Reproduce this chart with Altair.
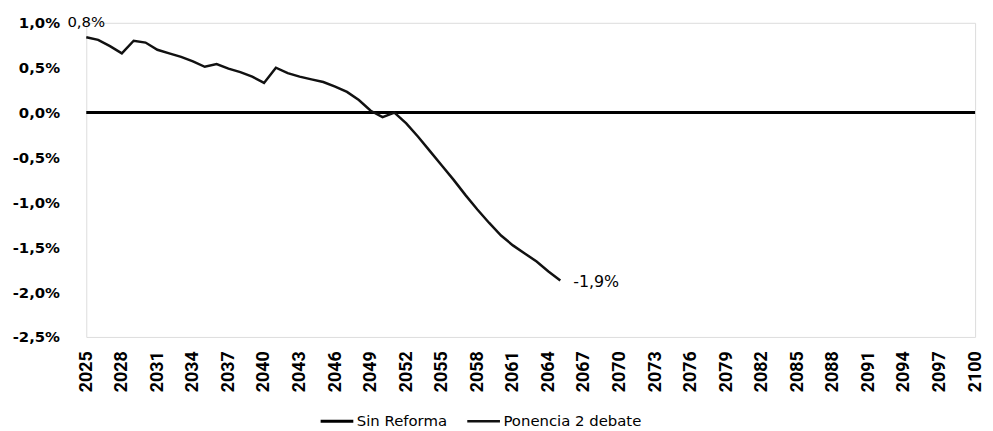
import altair as alt
import pandas as pd

# ---- data ----
years_all = list(range(2025, 2101))
sin_reforma = [0.0, 0.0, 0.0, 0.0, 0.0, 0.0, 0.0, 0.0, 0.0, 0.0,
               0.0, 0.0, 0.0, 0.0, 0.0, 0.0, 0.0, 0.0, 0.0, 0.0,
               0.0, 0.0, 0.0, 0.0, 0.0, 0.0, 0.0, 0.0, 0.0, 0.0,
               0.0, 0.0, 0.0, 0.0, 0.0, 0.0, 0.0, 0.0, 0.0, 0.0,
               0.0, 0.0, 0.0, 0.0, 0.0, 0.0, 0.0, 0.0, 0.0, 0.0,
               0.0, 0.0, 0.0, 0.0, 0.0, 0.0, 0.0, 0.0, 0.0, 0.0,
               0.0, 0.0, 0.0, 0.0, 0.0, 0.0, 0.0, 0.0, 0.0, 0.0,
               0.0, 0.0, 0.0, 0.0, 0.0, 0.0]
years_ponencia = list(range(2025, 2066))
ponencia = [0.84, 0.81, 0.74, 0.66, 0.80, 0.78, 0.70, 0.66, 0.62, 0.57,
            0.51, 0.54, 0.49, 0.45, 0.40, 0.33, 0.50, 0.44, 0.40, 0.37,
            0.34, 0.29, 0.23, 0.14, 0.02, -0.05, 0.00, -0.12, -0.27, -0.43,
            -0.59, -0.75, -0.92, -1.08, -1.23, -1.37, -1.48, -1.57, -1.66, -1.77,
            -1.87]
series_names = ["Sin Reforma", "Ponencia 2 debate"]
y_ticks = [-2.5, -2.0, -1.5, -1.0, -0.5, 0.0, 0.5, 1.0]
x_ticks = list(range(2025, 2101, 3))

df = pd.concat([
    pd.DataFrame({"year": years_all, "value": sin_reforma, "serie": series_names[0]}),
    pd.DataFrame({"year": years_ponencia, "value": ponencia, "serie": series_names[1]}),
])
df_first = pd.DataFrame({"year": [years_ponencia[0]], "value": [ponencia[0]]})
df_last = pd.DataFrame({"year": [years_ponencia[-1]], "value": [ponencia[-1]]})

pct_expr = "replace(replace(format(datum.value, '.1f'), '.', ','), '\u2212', '-') + '%'"

x_enc = alt.X("year:Q",
              scale=alt.Scale(domain=[2025, 2100], nice=False, zero=False),
              axis=alt.Axis(values=x_ticks, format="d", labelAngle=270,
                            labelFont="Roboto", labelFontWeight="bold",
                            labelFontSize=18, labelColor="#000", labelPadding=14,
                            ticks=False, domain=False, grid=False, title=None,
                            labelOverlap=False, labelFlush=False, labelBound=False,
                            labelSeparation=0))
y_enc = alt.Y("value:Q",
              scale=alt.Scale(domain=[-2.5, 1.0], nice=False, zero=False),
              axis=alt.Axis(values=y_ticks, labelExpr=pct_expr,
                            labelFont="DejaVu Sans", labelFontWeight="bold",
                            labelFontSize=15, labelColor="#000", labelPadding=27,
                            ticks=False, domain=False, grid=False, title=None,
                            labelOverlap=False))

lines = alt.Chart(df).mark_line(strokeCap="butt").encode(
    x=x_enc,
    y=y_enc,
    color=alt.Color("serie:N",
                    scale=alt.Scale(domain=series_names, range=["#000000", "#111111"]),
                    legend=alt.Legend(orient="none", legendX=235, legendY=384,
                                      direction="horizontal", title=None,
                                      symbolType="stroke", symbolSize=1089,
                                      symbolStrokeWidth=2, labelFont="DejaVu Sans",
                                      labelFontSize=15, labelColor="#000",
                                      labelOffset=2, columnPadding=14, padding=0)),
    strokeWidth=alt.StrokeWidth("serie:N",
                                scale=alt.Scale(domain=series_names, range=[3, 2.5]),
                                legend=None),
    detail="serie:N",
)

lab_first = alt.Chart(df_first).transform_calculate(txt=pct_expr).mark_text(
    font="DejaVu Sans", fontSize=15, color="#000", align="center", baseline="middle", dy=-15
).encode(x=x_enc, y=y_enc, text="txt:N")

lab_last = alt.Chart(df_last).transform_calculate(txt=pct_expr).mark_text(
    font="DejaVu Sans", fontSize=16, color="#000", align="left", baseline="middle", dx=13, dy=2
).encode(x=x_enc, y=y_enc, text="txt:N")

chart = alt.layer(lines, lab_first, lab_last).properties(
    width=897, height=317,
    autosize=alt.AutoSizeParams(type="none"),
    padding={"left": 79, "top": 13, "right": 10, "bottom": 95},
).configure_view(stroke=None).configure(background="#ffffff").configure_axis(
    labelOverlap=False
)

chart.save("out.html", embed_options={"renderer": "svg", "actions": False})
